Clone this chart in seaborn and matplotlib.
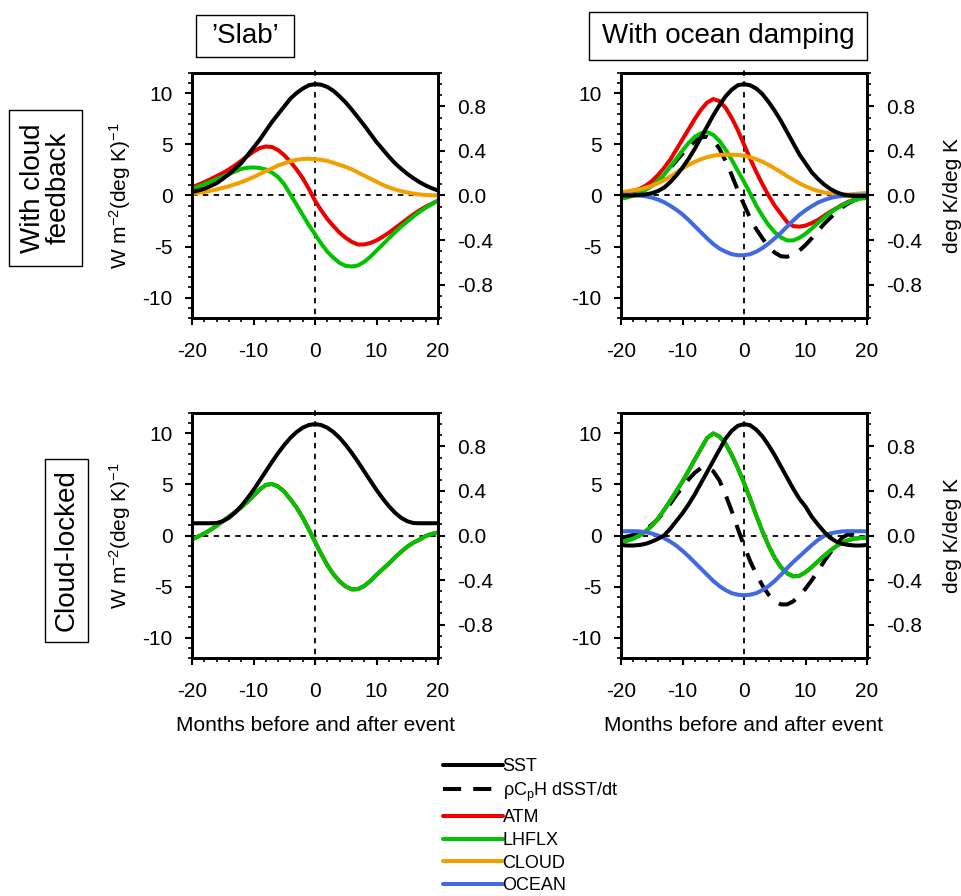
import matplotlib
matplotlib.use("Agg")
import matplotlib.pyplot as plt
import seaborn as sns
import pandas as pd
from matplotlib.lines import Line2D
from matplotlib.patches import Rectangle
from matplotlib.ticker import MultipleLocator

# ---------------- data ----------------
lags = list(range(-20, 21))

# Top-left: 'Slab' with cloud feedback
tl_sst = [0.03, 0.045, 0.06, 0.085, 0.11, 0.15, 0.19, 0.24, 0.29, 0.36, 0.43, 0.50, 0.58, 0.66, 0.73,
          0.80, 0.87, 0.92, 0.96, 0.99, 1.00, 0.995, 0.975, 0.94, 0.89, 0.835, 0.77, 0.70, 0.63, 0.555,
          0.48, 0.415, 0.35, 0.29, 0.24, 0.195, 0.155, 0.12, 0.09, 0.065, 0.045]
tl_atm = [0.8, 1.05, 1.3, 1.6, 1.9, 2.2, 2.55, 2.95, 3.4, 3.85, 4.3, 4.65, 4.8, 4.75, 4.45, 3.95, 3.3,
          2.55, 1.7, 0.65, -0.5, -1.45, -2.3, -3.0, -3.65, -4.15, -4.55, -4.8, -4.8, -4.65, -4.4,
          -4.05, -3.65, -3.2, -2.75, -2.3, -1.85, -1.45, -1.1, -0.8, -0.5]
tl_lh = [0.65, 0.85, 1.1, 1.35, 1.6, 1.85, 2.1, 2.35, 2.6, 2.72, 2.75, 2.7, 2.55, 2.25, 1.8, 1.1, 0.1,
         -0.9, -1.9, -2.9, -3.8, -4.7, -5.5, -6.1, -6.6, -6.9, -6.95, -6.85, -6.5, -6.0, -5.4, -4.8,
         -4.2, -3.6, -3.05, -2.55, -2.05, -1.6, -1.2, -0.85, -0.5]
tl_cld = [0.15, 0.25, 0.35, 0.45, 0.6, 0.75, 0.9, 1.1, 1.3, 1.55, 1.8, 2.1, 2.4, 2.65, 2.95, 3.15,
          3.35, 3.5, 3.58, 3.6, 3.55, 3.5, 3.4, 3.2, 3.0, 2.8, 2.55, 2.25, 1.95, 1.65, 1.35, 1.05,
          0.8, 0.6, 0.42, 0.3, 0.18, 0.1, 0.05, 0.02, 0.0]

# Top-right: with ocean damping, with cloud feedback
tr_sst = [0.0, 0.0, 0.0, 0.005, 0.01, 0.02, 0.04, 0.07, 0.12, 0.18, 0.25, 0.33, 0.42, 0.52, 0.62,
          0.72, 0.81, 0.89, 0.95, 0.99, 1.0, 0.99, 0.96, 0.91, 0.84, 0.76, 0.67, 0.57, 0.47, 0.37,
          0.29, 0.21, 0.15, 0.10, 0.06, 0.03, 0.01, 0.0, -0.005, -0.005, -0.005]
tr_dsst = [0.0, 0.05, 0.15, 0.35, 0.6, 0.95, 1.4, 2.0, 2.7, 3.4, 4.1, 4.75, 5.3, 5.7, 5.75, 5.4, 4.6,
           3.4, 2.0, 0.5, -0.9, -2.2, -3.3, -4.2, -5.0, -5.6, -5.95, -6.0, -5.8, -5.4, -4.85, -4.2,
           -3.5, -2.8, -2.2, -1.65, -1.15, -0.75, -0.45, -0.25, -0.15]
tr_atm = [0.2, 0.3, 0.45, 0.65, 0.95, 1.4, 2.0, 2.7, 3.5, 4.5, 5.5, 6.5, 7.5, 8.4, 9.1, 9.45, 9.25,
          8.6, 7.6, 6.4, 5.0, 3.6, 2.3, 1.1, 0.0, -1.0, -1.8, -2.6, -3.0, -3.05, -2.95, -2.7, -2.4,
          -2.0, -1.6, -1.25, -0.9, -0.6, -0.4, -0.25, -0.15]
tr_lh = [-0.3, -0.2, 0.0, 0.25, 0.55, 0.95, 1.45, 2.05, 2.8, 3.6, 4.4, 5.15, 5.75, 6.1, 6.2, 5.95,
         5.35, 4.5, 3.5, 2.4, 1.35, 0.2, -1.0, -2.0, -2.9, -3.6, -4.1, -4.4, -4.4, -4.15, -3.75,
         -3.25, -2.7, -2.2, -1.7, -1.3, -0.95, -0.65, -0.45, -0.3, -0.25]
tr_cld = [0.35, 0.4, 0.5, 0.6, 0.75, 0.95, 1.2, 1.5, 1.85, 2.25, 2.65, 3.0, 3.3, 3.55, 3.75, 3.9,
          3.97, 4.0, 4.0, 3.97, 3.9, 3.75, 3.55, 3.3, 3.0, 2.65, 2.3, 1.9, 1.55, 1.2, 0.9, 0.65,
          0.45, 0.3, 0.2, 0.13, 0.1, 0.1, 0.15, 0.2, 0.25]
tr_ocn = [0.1, 0.08, 0.05, 0.0, -0.08, -0.2, -0.4, -0.65, -1.0, -1.4, -1.85, -2.4, -3.0, -3.6,
          -4.2, -4.75, -5.2, -5.5, -5.75, -5.85, -5.85, -5.75, -5.5, -5.15, -4.7, -4.2, -3.65,
          -3.05, -2.45, -1.9, -1.45, -1.05, -0.7, -0.45, -0.25, -0.12, -0.04, 0.0, 0.05, 0.05, 0.05]

# Bottom-left: 'Slab', cloud-locked
bl_sst = [0.11, 0.11, 0.11, 0.11, 0.112, 0.128, 0.159, 0.205, 0.264, 0.333, 0.409, 0.492, 0.576,
          0.66, 0.74, 0.813, 0.877, 0.929, 0.968, 0.992, 1.0, 0.992, 0.968, 0.929, 0.877, 0.813,
          0.74, 0.66, 0.576, 0.492, 0.409, 0.333, 0.264, 0.205, 0.159, 0.128, 0.112, 0.11, 0.11,
          0.11, 0.11]
bl_atm = [-0.4, -0.1, 0.2, 0.55, 0.95, 1.4, 1.85, 2.3, 2.75, 3.3, 3.9, 4.5, 4.95, 5.05, 4.8, 4.3,
          3.55, 2.75, 1.75, 0.6, -0.6, -1.8, -2.9, -3.8, -4.5, -5.0, -5.28, -5.25, -4.95, -4.45,
          -3.85, -3.3, -2.75, -2.15, -1.6, -1.1, -0.7, -0.4, -0.05, 0.15, 0.3]
bl_lh = list(bl_atm)

# Bottom-right: with ocean damping, cloud-locked
br_sst = [-0.085, -0.09, -0.09, -0.085, -0.075, -0.055, -0.03, 0.0, 0.06, 0.13, 0.2, 0.28, 0.37,
          0.47, 0.57, 0.67, 0.77, 0.87, 0.94, 0.985, 1.0, 0.99, 0.95, 0.89, 0.81, 0.72, 0.62, 0.52,
          0.42, 0.33, 0.26, 0.17, 0.1, 0.035, -0.02, -0.055, -0.075, -0.085, -0.09, -0.09, -0.085]
br_dsst = [-0.2, -0.1, 0.05, 0.3, 0.6, 1.05, 1.6, 2.3, 3.1, 3.95, 4.75, 5.5, 6.15, 6.6, 6.65, 6.3,
           5.4, 4.0, 2.4, 0.65, -1.0, -2.5, -3.8, -4.9, -5.8, -6.4, -6.75, -6.75, -6.45, -5.9,
           -5.2, -4.4, -3.5, -2.55, -1.7, -0.9, -0.2, 0.15, 0.3, 0.35, 0.3]
br_atm = [-0.6, -0.5, -0.3, 0.0, 0.4, 0.95, 1.65, 2.5, 3.4, 4.35, 5.3, 6.35, 7.45, 8.5, 9.55, 10.0,
          9.7, 9.0, 7.9, 6.6, 5.15, 3.6, 1.95, 0.4, -1.0, -2.2, -3.1, -3.7, -4.0, -3.95, -3.6, -3.1,
          -2.55, -2.0, -1.5, -1.05, -0.7, -0.45, -0.3, -0.25, -0.2]
br_lh = list(br_atm)
br_ocn = [0.4, 0.42, 0.42, 0.4, 0.33, 0.2, 0.0, -0.25, -0.6, -1.0, -1.5, -2.05, -2.65, -3.25,
          -3.85, -4.45, -4.95, -5.35, -5.65, -5.8, -5.85, -5.8, -5.65, -5.35, -4.95, -4.45, -3.85,
          -3.2, -2.6, -2.05, -1.5, -0.95, -0.45, -0.05, 0.2, 0.32, 0.4, 0.42, 0.42, 0.42, 0.4]

series_names = ["SST", "dSST", "ATM", "LHFLX", "CLOUD", "OCEAN"]
legend_labels = ["SST", r"ρC$_{\mathregular{p}}$H dSST/dt", "ATM", "LHFLX", "CLOUD", "OCEAN"]
col_titles = ["\u2019Slab\u2019", "With ocean damping"]
row_titles = ["With cloud\nfeedback", "Cloud-locked"]
x_ticks = [-20, -10, 0, 10, 20]
left_ticks = [-10, -5, 0, 5, 10]
right_ticks = [-0.8, -0.4, 0.0, 0.4, 0.8]
right_ticklabels = ["-0.8", "-0.4", "0.0", "0.4", "0.8"]

panels = {
    (0, 0): {"SST": tl_sst, "ATM": tl_atm, "LHFLX": tl_lh, "CLOUD": tl_cld},
    (0, 1): {"SST": tr_sst, "dSST": tr_dsst, "ATM": tr_atm, "LHFLX": tr_lh, "CLOUD": tr_cld,
             "OCEAN": tr_ocn},
    (1, 0): {"SST": bl_sst, "ATM": bl_atm, "LHFLX": bl_lh},
    (1, 1): {"SST": br_sst, "dSST": br_dsst, "ATM": br_atm, "LHFLX": br_lh, "OCEAN": br_ocn},
}

# ---------------- style ----------------
sns.set_theme(style="ticks")
plt.rcParams["font.family"] = ["Liberation Sans", "DejaVu Sans"]
plt.rcParams.update({
    "axes.unicode_minus": False,
    "mathtext.fontset": "custom",
    "mathtext.rm": "Liberation Sans",
    "mathtext.it": "Liberation Sans:italic",
    "mathtext.bf": "Liberation Sans:bold",
    "mathtext.default": "regular",
    "text.color": "black",
    "axes.labelcolor": "black",
    "xtick.color": "black",
    "ytick.color": "black",
    "axes.edgecolor": "black",
})

colors = {"SST": "black", "dSST": "black", "ATM": "#ee0000", "LHFLX": "#00c400",
          "CLOUD": "#f2a000", "OCEAN": "#4169e1"}
styles = {"SST": "-", "dSST": (0, (4.5, 3.0)), "ATM": "-", "LHFLX": "-", "CLOUD": "-", "OCEAN": "-"}
LW = 2.9

W, H = 961, 896
fig = plt.figure(figsize=(W / 100, H / 100), dpi=100)

ax_px = {(0, 0): (192, 73), (0, 1): (621, 73), (1, 0): (192, 413), (1, 1): (621, 413)}
aw, ah = 246, 245

for (r, c), data in panels.items():
    x0, y0 = ax_px[(r, c)]
    ax = fig.add_axes([x0 / W, 1 - (y0 + ah) / H, aw / W, ah / H])
    ax2 = ax.twinx()

    ax.axhline(0, xmin=0, xmax=1.028, color="black", lw=1.3, ls=(0, (3, 3)), clip_on=False, zorder=1)
    ax.axvline(0, ymin=-0.028, ymax=1.02, color="black", lw=1.3, ls=(0, (3, 3)), clip_on=False, zorder=1)

    for name in ["dSST", "ATM", "LHFLX", "CLOUD", "OCEAN"]:
        if name in data:
            df = pd.DataFrame({"lag": lags, "value": data[name]})
            sns.lineplot(data=df, x="lag", y="value", ax=ax, color=colors[name], lw=LW,
                         linestyle=styles[name], zorder=3)
    df = pd.DataFrame({"lag": lags, "value": data["SST"]})
    sns.lineplot(data=df, x="lag", y="value", ax=ax2, color=colors["SST"], lw=LW, zorder=3)

    ax.set_xlim(-20, 20)
    ax.set_ylim(-12, 12)
    ax2.set_ylim(-1.1, 1.1)

    ax.set_xticks(x_ticks)
    ax.set_xticklabels([str(v) for v in x_ticks])
    ax.xaxis.set_minor_locator(MultipleLocator(2))
    ax.set_yticks(left_ticks)
    ax.set_yticklabels([str(v) for v in left_ticks])
    ax.yaxis.set_minor_locator(MultipleLocator(1))
    ax2.set_yticks(right_ticks)
    ax2.set_yticklabels(right_ticklabels)
    ax2.yaxis.set_minor_locator(MultipleLocator(0.1))

    for a in (ax, ax2):
        a.tick_params(which="major", length=5, width=1.5, direction="out", labelsize=15, pad=9)
        a.tick_params(which="minor", length=3, width=1.2, direction="out")
        for s in a.spines.values():
            s.set_visible(True)
            s.set_linewidth(2.0)
    ax.tick_params(axis="x", which="both", top=False, bottom=True)
    ax.tick_params(axis="x", which="major", pad=12)
    ax.tick_params(axis="y", which="both", left=True, right=False)
    ax2.tick_params(axis="y", which="both", right=True, left=False)

    ax.set_xlabel("")
    ax.set_ylabel("")
    ax2.set_ylabel("")
    ax2.set_xlabel("")

    if c == 0:
        ax.set_ylabel(r"W m$^{-2}$(deg K)$^{-1}$", fontsize=15, labelpad=7)
    else:
        ax2.set_ylabel("deg K/deg K", fontsize=15, labelpad=15)
    if r == 1:
        ax.set_xlabel("Months before and after event", fontsize=15, labelpad=11)

# boxed titles (box edges in pixels: left, top, right, bottom)
def boxed_text(text, box, rot=0, **kw):
    l, t, rr, b = box
    fig.patches.append(Rectangle((l / W, 1 - b / H), (rr - l) / W, (b - t) / H,
                                 transform=fig.transFigure, fc="white", ec="black", lw=1.0))
    fig.text((l + rr) / 2 / W, 1 - (t + b) / 2 / H, text, fontsize=20, ha="center",
             va="center", rotation=rot, **kw)

boxed_text(col_titles[0], (196, 15, 294, 57))
boxed_text(col_titles[1], (589, 12, 867, 60))
boxed_text(row_titles[0], (9, 110, 82, 266), rot=90, linespacing=1.0, multialignment="center")
boxed_text(row_titles[1], (45, 459, 88, 642), rot=90)

# legend
handles = [Line2D([], [], color=colors[n], lw=LW, linestyle=styles[n]) for n in series_names]
fig.legend(handles, legend_labels, loc="upper left", bbox_to_anchor=(443 / W, 1 - 758 / H),
           frameon=False, fontsize=13, handlelength=3.3, handletextpad=0.0,
           labelspacing=0.31, borderpad=0, borderaxespad=0)

fig.savefig("out.png", dpi=100)
